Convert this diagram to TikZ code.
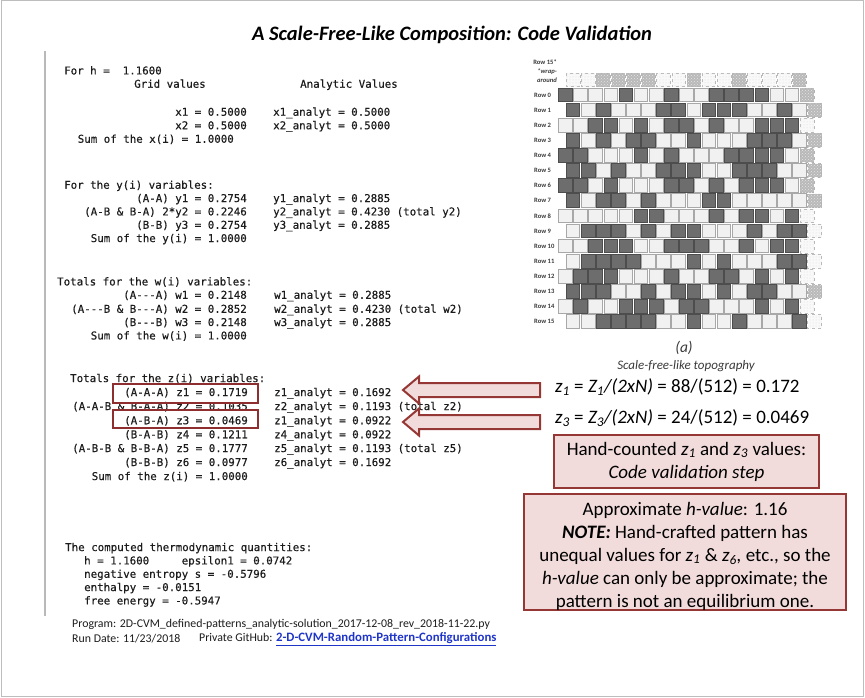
\documentclass[tikz,border=0pt]{standalone}
\usepackage{fontspec}
\setmainfont{Carlito}
\newfontfamily\codefont[FakeBold=0.4]{DejaVu Sans Mono}
\usetikzlibrary{patterns}
\definecolor{pinkfill}{HTML}{F2DCDB}
\definecolor{redline}{HTML}{953735}
\definecolor{boxred}{HTML}{8E2E2E}
\definecolor{codetext}{HTML}{1C1C1C}
\definecolor{celldark}{HTML}{6D6D6D}
\definecolor{celldarkline}{HTML}{4D4D4D}
\definecolor{celllight}{HTML}{F1F1F1}
\definecolor{celllightline}{HTML}{A8A8A8}
\definecolor{linkblue}{HTML}{1F35C9}
\definecolor{labelgray}{HTML}{3A3A3A}
\definecolor{framegray}{HTML}{BDBDBD}
\begin{document}
\begin{tikzpicture}[x=1pt,y=-1pt,
  code/.style={font=\codefont\fontsize{10.8}{12}\selectfont, inner sep=0pt, text=codetext, text height=8pt, text depth=2.5pt},
  cl/.style={code, anchor=west},
  cr/.style={code, anchor=east},
  cell1/.style={fill=celldark, draw=celldarkline, line width=1pt},
  cell0/.style={fill=celllight, draw=celllightline, line width=1pt},
  wrap1/.style={fill=gray!55, draw=gray!60, dashed, line width=0.8pt, postaction={pattern=crosshatch dots, pattern color=gray!20}},
  wrap0/.style={fill=gray!5, draw=gray!55, dashed, line width=0.8pt, postaction={pattern=dots, pattern color=gray!30}},
  rowlab/.style={font=\fontsize{6.6}{7}\selectfont\bfseries, text=labelgray, inner sep=0pt},
  zbox/.style={draw=boxred, line width=2pt, inner sep=0pt},
  blockarrow/.style={fill=pinkfill, draw=redline, line width=2pt, line join=miter},
  pinkbox/.style={fill=pinkfill, draw=redline, line width=2pt, inner sep=0pt},
  big/.style={font=\fontsize{19}{23}\selectfont},
  small/.style={font=\fontsize{11.85}{13}\selectfont, text=codetext, inner sep=0pt, anchor=west}
]
\useasboundingbox (0,0) rectangle (865,698);
\draw[framegray, line width=1pt] (1,1) rectangle (863,696);

% title
\node[font=\fontsize{20.5}{24}\selectfont\bfseries\itshape] (title) at (452,35) {A Scale-Free-Like Composition: Code Validation};

% code block rule
\coordinate (vtop) at (45,51);
\coordinate (vbot) at (45,616);
\draw[gray!55, line width=1.5pt] (vtop) -- (vbot);

% section x
\node[cl] (h1) at (64,71.7) {For h = ~1.1600};
\node[cl] (h2) at (134,85) {Grid values};
\node[cl] (h3) at (300,85) {Analytic Values};
\node[cr] (x1) at (247,113) {x1 = 0.5000};
\node[cl] (x1a) at (273,113) {x1\_analyt = 0.5000};
\node[cr] (x2) at (247,126.5) {x2 = 0.5000};
\node[cl] (x2a) at (273,126.5) {x2\_analyt = 0.5000};
\node[cr] (xs) at (234,140) {Sum of the x(i) = 1.0000};

% section y
\node[cl] (yh) at (64,186) {For the y(i) variables:};
\node[cr] (y1) at (247,199.3) {(A-A) y1 = 0.2754};
\node[cl] (y1a) at (273,199.3) {y1\_analyt = 0.2885};
\node[cr] (y2) at (247,212.7) {(A-B \& B-A) 2*y2 = 0.2246};
\node[cl] (y2a) at (273,212.7) {y2\_analyt = 0.4230 (total y2)};
\node[cr] (y3) at (247,226) {(B-B) y3 = 0.2754};
\node[cl] (y3a) at (273,226) {y3\_analyt = 0.2885};
\node[cr] (ys) at (247,239.3) {Sum of the y(i) = 1.0000};

% section w
\node[cl] (wh) at (57,282.7) {Totals for the w(i) variables:};
\node[cr] (w1) at (247,296) {(A-{}-{}-A) w1 = 0.2148};
\node[cl] (w1a) at (274,296) {w1\_analyt = 0.2885};
\node[cr] (w2) at (247,310) {(A-{}-{}-B \& B-{}-{}-A) w2 = 0.2852};
\node[cl] (w2a) at (274,310) {w2\_analyt = 0.4230 (total w2)};
\node[cr] (w3) at (247,323.3) {(B-{}-{}-B) w3 = 0.2148};
\node[cl] (w3a) at (274,323.3) {w3\_analyt = 0.2885};
\node[cr] (ws) at (247,336.7) {Sum of the w(i) = 1.0000};

% section z
\node[cl] (zh) at (70,379.3) {Totals for the z(i) variables:};
\node[cr] (z1) at (248,393.3) {(A-A-A) z1 = 0.1719};
\node[cl] (z1a) at (274,393.3) {z1\_analyt = 0.1692};
\node[cr] (z2) at (248,407.3) {(A-A-B \& B-A-A) z2 = 0.1035};
\node[cl] (z2a) at (274,407.3) {z2\_analyt = 0.1193 (total z2)};
\node[cr] (z3) at (248,421.5) {(A-B-A) z3 = 0.0469};
\node[cl] (z3a) at (274,421.5) {z1\_analyt = 0.0922};
\node[cr] (z4) at (248,435.5) {(B-A-B) z4 = 0.1211};
\node[cl] (z4a) at (274,435.5) {z4\_analyt = 0.0922};
\node[cr] (z5) at (248,449.3) {(A-B-B \& B-B-A) z5 = 0.1777};
\node[cl] (z5a) at (274,449.3) {z5\_analyt = 0.1193 (total z5)};
\node[cr] (z6) at (248,463.3) {(B-B-B) z6 = 0.0977};
\node[cl] (z6a) at (274,463.3) {z6\_analyt = 0.1692};
\node[cr] (zs) at (248,477.3) {Sum of the z(i) = 1.0000};

% red boxes around z1 and z3
\node[zbox, minimum width=145pt, minimum height=19pt] (zb1) at (185.5,393.5) {};
\node[zbox, minimum width=145pt, minimum height=18.5pt] (zb3) at (185.5,418.8) {};

% thermodynamics
\node[cl] (t0) at (65,548.3) {The computed thermodynamic quantities:};
\node[cl] (t1) at (84,561.7) {h = 1.1600~~~~~epsilon1 = 0.0742};
\node[cl] (t2) at (84,575) {negative entropy s = -0.5796};
\node[cl] (t3) at (84,588.3) {enthalpy = -0.0151};
\node[cl] (t4) at (84,601.7) {free energy = -0.5947};

% program info
\node[small] (p1) at (72,624) {Program: 2D-CVM\_defined-patterns\_analytic-solution\_2017-12-08\_rev\_2018-11-22.py};
\node[small] (p2) at (72,639) {Run Date: 11/23/2018};
\node[small] (p3) at (199,639) {Private GitHub: \textcolor{linkblue}{\fontsize{12.8}{13}\selectfont\bfseries\underline{2-D-CVM-Random-Pattern-Configurations}}};

% grid
\foreach \r/\w/\pat in {
 0/1/{1,0,0,0,1,0,0,1,0,0,1,1,1,1,0,0},
 1/1/{1,0,1,0,0,0,1,1,0,1,1,1,0,0,1,0},
 2/0/{0,0,1,1,0,1,0,1,1,0,1,0,0,1,1,1},
 3/1/{1,0,1,0,1,1,0,0,1,0,0,0,1,1,1,0},
 4/1/{1,1,0,0,0,1,0,1,0,0,0,1,1,1,1,0},
 5/1/{1,1,0,1,0,0,1,1,1,0,0,1,1,1,0,0},
 6/1/{1,1,0,1,0,0,0,1,1,0,1,0,1,1,1,0},
 7/1/{1,0,1,1,0,1,0,0,0,1,1,0,0,0,0,0},
 8/0/{0,0,0,0,0,1,1,0,0,0,1,0,1,1,0,1},
 9/0/{0,1,1,1,0,1,0,1,1,0,0,0,1,0,1,1},
 10/0/{0,0,1,1,1,0,0,1,1,1,0,0,1,0,1,1},
 11/0/{0,1,1,1,1,0,0,0,1,0,1,0,0,0,1,1},
 12/0/{0,1,1,1,0,0,0,1,0,0,1,1,0,1,0,1},
 13/1/{1,1,1,0,0,1,0,1,1,0,1,0,1,1,0,0},
 14/0/{0,1,0,0,1,1,1,0,1,1,0,0,0,1,0,1},
 15/0/{0,0,1,1,1,1,0,0,1,0,0,1,0,0,0,1}} {
  \pgfmathsetmacro\yy{87.5+\r*15.1}
  \pgfmathsetmacro\xo{558+mod(\r,2)*7.55}
  \foreach \v [count=\c from 0] in \pat {
    \draw[cell\v] ({\xo+\c*15.1+0.7},{\yy+0.7}) rectangle ++(13.7,13.7);
  }
  \draw[wrap\w] ({\xo+16*15.1+0.7},{\yy+0.7}) rectangle ++(13.7,13.7);
  \node[rowlab, anchor=west] at (534,{\yy+7.55}) {Row \r};
}
% wrap-around row (copy of row 15)
\foreach \v [count=\c from 0] in {0,0,1,1,1,1,0,0,1,0,0,1,0,0,0,1} {
  \draw[wrap\v] ({565.55+\c*15.1+0.7},{72.4+0.7}) rectangle ++(13.7,13.7);
}
\node[rowlab, anchor=east] (wl1) at (557,62) {Row 15*};
\node[rowlab, anchor=east, font=\fontsize{6.6}{7}\selectfont\bfseries\itshape] (wl2) at (557,71.5) {*wrap-};
\node[rowlab, anchor=east, font=\fontsize{6.6}{7}\selectfont\bfseries\itshape] (wl3) at (557,80.5) {around};

\node[font=\fontsize{15.5}{18}\selectfont\itshape, text=labelgray] (cap1) at (684,348) {(a)};
\node[font=\fontsize{13}{16}\selectfont\itshape, text=labelgray] (cap2) at (686,366) {Scale-free-like topography};

% formulas
\node[big, anchor=west, inner sep=0pt] (f1) at (555,387) {\textit{z\textsubscript{1}} = \textit{Z\textsubscript{1}/(2xN)} = 88/(512) = 0.172};
\node[big, anchor=west, inner sep=0pt] (f3) at (555,418) {\textit{z\textsubscript{3}} = \textit{Z\textsubscript{3}/(2xN)} = 24/(512) = 0.0469};

% block arrows from formulas to boxed values
\coordinate (a1) at (403,390);
\coordinate (a3) at (403,422);
\foreach \a in {a1,a3} {
  \draw[blockarrow] (\a) -- ++(16,-13.5) -- ++(0,6.5) -- ++(121,0) -- ++(0,14) -- ++(-121,0) -- ++(0,6.5) -- cycle;
}

% pink boxes
\node[pinkbox, minimum width=265pt, minimum height=53pt] (hc) at (686.5,461.7) {};
\node[big, align=center, inner sep=0pt] (hctext) at (686.5,461.7)
  {Hand-counted \textit{z\textsubscript{1}} and \textit{z\textsubscript{3}} values:\\ \textit{Code validation step}};
\node[pinkbox, minimum width=322pt, minimum height=116pt] (note) at (685,552) {};
\node[big, align=center, inner sep=0pt] (notetext) at (685,556)
  {Approximate \textit{h-value}: 1.16\\
   \textbf{\textit{NOTE:}} Hand-crafted pattern has\\
   unequal values for \textit{z\textsubscript{1}} \& \textit{z\textsubscript{6},} etc., so the\\
   \textit{h-value} can only be approximate; the\\
   pattern is not an equilibrium one.};
\end{tikzpicture}
\end{document}
